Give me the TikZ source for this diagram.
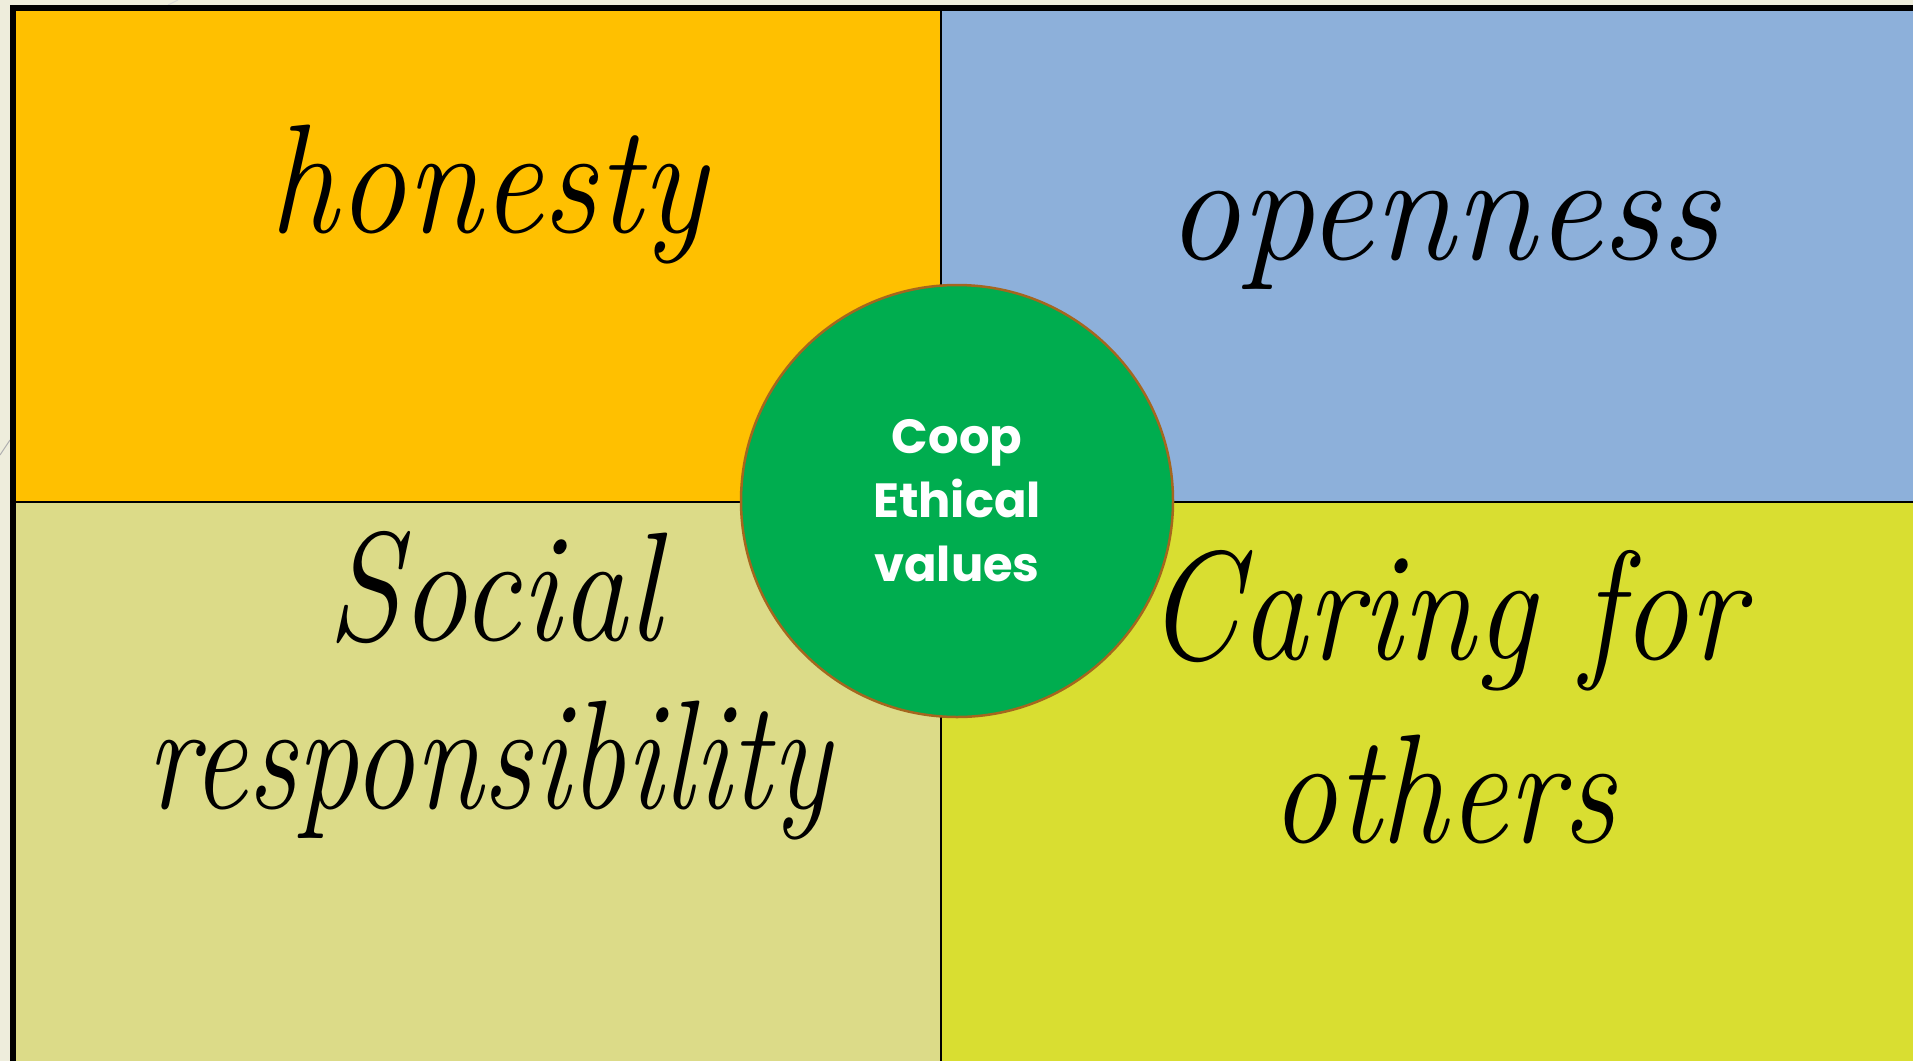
\documentclass[tikz,border=0pt]{standalone}
\usepackage{fontspec}
\newfontfamily\coopfont{Poppins}
\definecolor{bgcream}{HTML}{EEEDDC}
\definecolor{qorange}{HTML}{FFC000}
\definecolor{qblue}{HTML}{8DB0DA}
\definecolor{qolive}{HTML}{DCDB88}
\definecolor{qlime}{HTML}{D9DE31}
\definecolor{cgreen}{HTML}{00AD4F}
\definecolor{cbrown}{HTML}{A5661E}
\tikzset{
  quad/.style={draw=none, inner sep=0pt, outer sep=0pt, anchor=north west},
  word/.style={inner sep=0pt, anchor=base, transform shape, font=\itshape\fontsize{155}{180}\selectfont, text=black, align=center},
  divider/.style={draw=black, line width=2.5pt},
  hub/.style={circle, fill=cgreen, draw=cbrown, line width=2.5pt, minimum size=432pt, inner sep=0pt,
    text=white, align=center, font=\coopfont\bfseries\fontsize{48}{64}\selectfont}
}
\begin{document}
\begin{tikzpicture}[x=1pt,y=-1pt]
\useasboundingbox (0,0) rectangle (1913,1061);
\fill[bgcream] (0,0) rectangle (1913,1061);
% faint slide decorations
\draw[gray!60, line width=1pt] (0,455) -- (10,440);
\draw[gray!30, line width=1pt] (168,5) -- (178,0);
% quadrants
\node[quad, fill=qorange, minimum width=925pt, minimum height=491pt] (tl) at (16,11) {};
\node[quad, fill=qblue, minimum width=972pt, minimum height=491pt] (tr) at (941,11) {};
\node[quad, fill=qolive, minimum width=925pt, minimum height=559pt] (bl) at (16,502) {};
\node[quad, fill=qlime, minimum width=972pt, minimum height=559pt] (br) at (941,502) {};
% outer border
\draw[black, line width=6pt] (13,1061) -- (13,8) -- (1913,8);
% dividers
\draw[divider] (tl.north east) -- (bl.south east);
\draw[divider] (tl.south west) -- (tr.south east);
% words
\node[word, xscale=0.88] (honesty) at (488,232) {honesty};
\node[word, xscale=0.95] (openness) at (1443,259) {openness};
\node[word, xscale=0.86] (social) at (494,640) {Social};
\node[word, xscale=0.80] (resp) at (488,808) {responsibility};
\node[word, xscale=0.86] (caring) at (1445,659) {Caring for};
\node[word, xscale=0.86] (others) at (1443,842) {others};
% hub
\node[hub] (hub) at (957,501) {Coop\\Ethical\\values};
\end{tikzpicture}
\end{document}
